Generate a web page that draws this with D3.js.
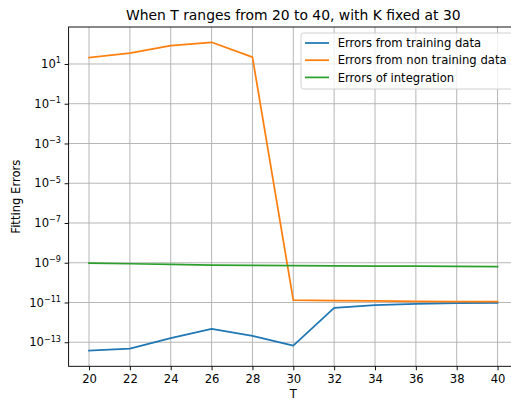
<!DOCTYPE html>
<html>
<head>
<meta charset="utf-8">
<script src="https://cdn.jsdelivr.net/npm/d3@7"></script>
<style>
  html, body { margin: 0; padding: 0; background: #fff; }
  svg { display: block; font-family: "DejaVu Sans", sans-serif; }
</style>
</head>
<body>
<svg id="grafico" width="511" height="399"></svg>
<script>
'use strict';

// Datos
var valoresT = [20, 22, 24, 26, 28, 30, 32, 34, 36, 38, 40];
var errEntrenamiento = [3.8e-14, 4.8e-14, 1.6e-13, 4.7e-13, 2.1e-13, 6.8e-14, 5.4e-12, 7.3e-12, 8.5e-12, 9.2e-12, 9.6e-12];
var errNoEntrenamiento = [21, 35, 83, 123, 22, 1.3e-11, 1.25e-11, 1.2e-11, 1.15e-11, 1.12e-11, 1.1e-11];
var errIntegracion = [9.6e-10, 8.9e-10, 8.2e-10, 7.6e-10, 7.3e-10, 7.1e-10, 7.0e-10, 6.8e-10, 6.7e-10, 6.5e-10, 6.3e-10];

var xTicks = [20, 22, 24, 26, 28, 30, 32, 34, 36, 38, 40];
var yExpTicks = [1, -1, -3, -5, -7, -9, -11, -13];

var series = [
  { nombre: 'Errors from training data', valores: errEntrenamiento, color: '#1f77b4' },
  { nombre: 'Errors from non training data', valores: errNoEntrenamiento, color: '#ff7f0e' },
  { nombre: 'Errors of integration', valores: errIntegracion, color: '#2ca02c' }
];

(function() {
  var svg = d3.select('#grafico');
  var izq = 68.6, der = 518, arriba = 27, abajo = 366.3;
  var fuente = 11.6;

  var x = d3.scaleLinear().domain([19, 41]).range([izq, der]);
  var y = d3.scaleLog().domain([Math.pow(10, -14.21), Math.pow(10, 2.86)]).range([abajo, arriba]);

  // Rejilla
  var rejilla = svg.append('g');
  xTicks.forEach(function(t) {
    rejilla.append('line')
      .attr('x1', x(t)).attr('x2', x(t)).attr('y1', arriba).attr('y2', abajo)
      .attr('stroke', '#b0b0b0').attr('stroke-width', 0.93);
  });
  yExpTicks.forEach(function(e) {
    rejilla.append('line')
      .attr('x1', izq).attr('x2', der).attr('y1', y(Math.pow(10, e))).attr('y2', y(Math.pow(10, e)))
      .attr('stroke', '#b0b0b0').attr('stroke-width', 0.93);
  });

  // Líneas de las series
  var linea = d3.line()
    .x(function(d, i) { return x(valoresT[i]); })
    .y(function(d) { return y(d); });

  series.forEach(function(s) {
    svg.append('path')
      .datum(s.valores)
      .attr('d', linea)
      .attr('fill', 'none')
      .attr('stroke', s.color)
      .attr('stroke-width', 1.74)
      .attr('stroke-linejoin', 'round')
      .attr('stroke-linecap', 'square');
  });

  // Ejes
  var ejeX = d3.axisBottom(x).tickValues(xTicks).tickSize(4).tickPadding(4).tickFormat(d3.format('d'));
  var gx = svg.append('g').attr('transform', 'translate(0,' + abajo + ')').call(ejeX);
  gx.select('.domain').remove();
  gx.selectAll('text').attr('font-size', fuente).attr('font-family', 'DejaVu Sans').attr('fill', '#000');
  gx.selectAll('line').attr('stroke-width', 0.93);

  var ejeY = d3.axisLeft(y).tickValues(yExpTicks.map(function(e) { return Math.pow(10, e); }))
    .tickSize(4).tickPadding(4).tickFormat('');
  var gy = svg.append('g').attr('transform', 'translate(' + izq + ',0)').call(ejeY);
  gy.select('.domain').remove();
  gy.selectAll('line').attr('stroke-width', 0.93);

  // Etiquetas 10^n con superíndice
  yExpTicks.forEach(function(e) {
    var txt = svg.append('text')
      .attr('x', izq - 7.6)
      .attr('y', y(Math.pow(10, e)) + 4.2)
      .attr('text-anchor', 'end')
      .attr('font-size', fuente);
    txt.append('tspan').text('10');
    txt.append('tspan').attr('dy', -4.7).attr('font-size', 8.1)
      .text(e < 0 ? '\u2212' + Math.abs(e) : String(e));
  });

  // Marco
  svg.append('rect')
    .attr('x', izq).attr('y', arriba).attr('width', der - izq).attr('height', abajo - arriba)
    .attr('fill', 'none').attr('stroke', '#000').attr('stroke-width', 0.93);

  // Títulos
  svg.append('text').attr('x', (izq + der) / 2).attr('y', 19.5)
    .attr('text-anchor', 'middle').attr('font-size', 13.9)
    .text('When T ranges from 20 to 40, with K fixed at 30');
  svg.append('text').attr('x', (izq + der) / 2).attr('y', 397.5)
    .attr('text-anchor', 'middle').attr('font-size', fuente).text('T');
  svg.append('text')
    .attr('transform', 'translate(20,' + ((arriba + abajo) / 2) + ') rotate(-90)')
    .attr('text-anchor', 'middle').attr('font-size', fuente).text('Fitting Errors');

  // Leyenda
  var ley = svg.append('g').attr('transform', 'translate(301,33)');
  ley.append('rect').attr('x', 0).attr('y', 0).attr('width', 222).attr('height', 56)
    .attr('rx', 2.5).attr('fill', '#fff').attr('fill-opacity', 0.8)
    .attr('stroke', '#ccc').attr('stroke-width', 0.93);
  series.forEach(function(s, i) {
    var yy = 10 + i * 17.2;
    ley.append('line').attr('x1', 4).attr('x2', 28).attr('y1', yy).attr('y2', yy)
      .attr('stroke', s.color).attr('stroke-width', 1.74);
    ley.append('text').attr('x', 36.7).attr('y', yy + 4.2).attr('font-size', fuente).text(s.nombre);
  });
})();
</script>
</body>
</html>
